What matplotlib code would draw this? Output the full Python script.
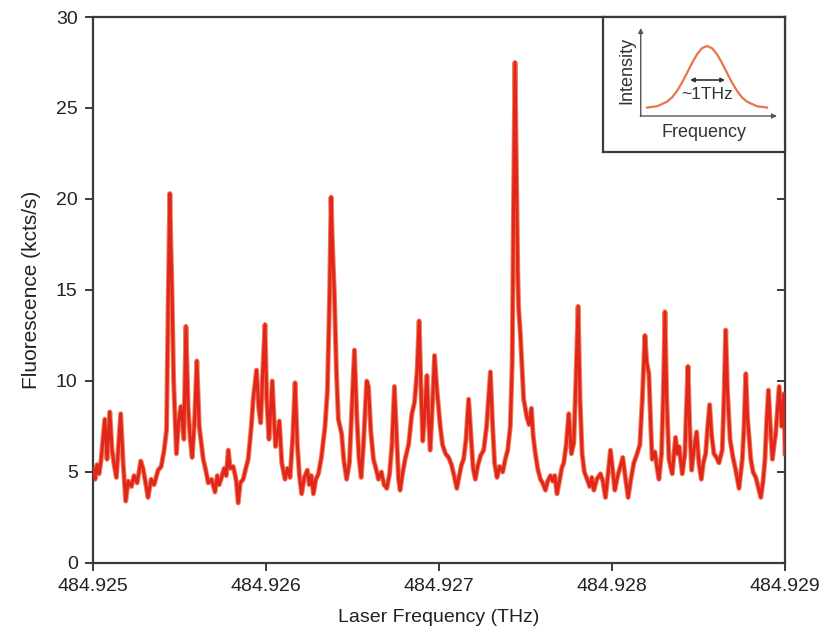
import matplotlib
matplotlib.use("Agg")
import matplotlib.pyplot as plt
import numpy as np

plt.rcParams['font.family'] = ['Liberation Sans', 'DejaVu Sans']

# ---------------- data ----------------
base_freq_thz = 484.925
# frequency offset from 484.925 THz, in MHz
freq_offset_mhz = [
    0, 12, 23, 35, 46, 68, 81, 97, 110, 122, 135, 148, 160, 174, 189,
    203, 222, 237, 255, 276, 289, 304, 318, 336, 353, 376, 394, 411,
    425, 434, 444, 450, 456, 466, 482,
    495, 508, 525, 537, 550, 562, 573, 588, 600, 614, 637,
    654, 666, 685, 705, 718, 729, 743, 758, 770, 782, 793, 810, 820, 828, 839,
    851, 868, 886, 897, 915, 926, 945, 958, 969, 981, 994, 1004, 1017, 1036,
    1047, 1055, 1077, 1091, 1110, 1123, 1139, 1155, 1168, 1181, 1193, 1206,
    1221, 1239, 1250, 1262, 1274, 1288, 1303, 1320, 1341, 1355, 1368, 1376,
    1384, 1395, 1407, 1418, 1437, 1450, 1466, 1482, 1496, 1511, 1525, 1537,
    1550, 1563, 1582, 1592, 1606, 1621, 1635, 1650, 1667, 1682, 1698, 1714,
    1728, 1742, 1757, 1766, 1775, 1789, 1804, 1824, 1843, 1858, 1873, 1885,
    1896, 1906, 1919, 1930, 1939, 1949, 1961, 1974, 1988, 2007, 2020, 2038,
    2055, 2072, 2087, 2103, 2119, 2130, 2142, 2156, 2171, 2185, 2197, 2210,
    2223, 2240, 2258, 2275, 2297, 2310, 2321, 2335, 2350, 2368, 2383, 2397,
    2412, 2423, 2431, 2439, 2448, 2455, 2460, 2470, 2481, 2489, 2508, 2521,
    2534, 2544, 2557, 2570, 2586, 2599, 2615, 2628, 2644, 2657, 2669, 2682,
    2698, 2709, 2721, 2735, 2750, 2765, 2779, 2791, 2804, 2815, 2827, 2840,
    2856, 2871, 2883, 2895, 2912, 2933, 2947, 2962, 2976, 2991, 3005, 3016,
    3033, 3048, 3062, 3077, 3093, 3109, 3126, 3145, 3161, 3175, 3190, 3201,
    3213, 3224, 3232, 3248, 3259, 3271, 3286, 3297, 3306, 3316, 3329, 3348,
    3367, 3378, 3387, 3406, 3421, 3430, 3439, 3449, 3460, 3473, 3489, 3502,
    3516, 3528, 3541, 3553, 3564, 3576, 3589, 3604, 3618, 3637, 3647, 3657,
    3667, 3682, 3699, 3715, 3734, 3753, 3763, 3773, 3783, 3802, 3815, 3831,
    3844, 3860, 3873, 3884, 3895, 3904, 3915, 3927, 3937, 3946, 3957, 3966,
    3974, 3981, 3989, 3994, 4000,
]
# fluorescence in kcts/s
fluorescence_kcts = [
    5.2, 4.6, 5.4, 4.9, 5.6, 7.9, 5.7, 8.3, 6.2, 5.4, 4.7, 6.5, 8.2, 5.5, 3.4,
    4.5, 4.2, 4.8, 4.4, 5.6, 5.2, 4.4, 3.6, 4.6, 4.3, 5.1, 5.3, 6.2,
    7.3, 14.0, 20.3, 17.5, 15.2, 10.0, 6.0,
    7.8, 8.6, 6.8, 13.0, 8.5, 6.8, 5.8, 8.0, 11.1, 7.5, 5.7,
    5.0, 4.4, 4.6, 3.9, 4.8, 4.3, 4.7, 5.2, 4.8, 6.2, 5.2, 5.3, 4.9, 4.5, 3.3,
    4.4, 4.6, 5.3, 5.7, 7.5, 9.0, 10.6, 8.5, 7.7, 10.5, 13.1, 9.0, 6.8, 10.0,
    7.8, 6.4, 7.8, 5.5, 4.6, 5.2, 4.7, 7.0, 9.9, 6.5, 4.8, 3.8,
    4.7, 5.1, 4.3, 4.8, 3.8, 4.6, 4.9, 5.8, 7.5, 9.5, 15.0, 20.1,
    17.5, 14.8, 10.5, 7.9, 7.1, 5.6, 4.6, 5.5, 8.5, 11.7, 8.0, 5.8,
    4.7, 6.5, 10.0, 9.7, 7.2, 5.7, 5.2, 4.6, 5.0, 4.3, 4.1, 4.9,
    6.5, 9.7, 6.5, 4.6, 4.0, 4.9, 5.7, 6.5, 8.2, 8.8, 10.5, 13.3,
    9.5, 6.7, 8.5, 10.3, 8.0, 6.2, 8.5, 11.4, 9.5, 7.5, 6.5, 6.0,
    5.8, 5.4, 4.8, 4.1, 4.9, 5.4, 5.7, 6.8, 9.0, 7.0, 5.2, 4.6,
    5.3, 5.9, 6.2, 7.5, 10.5, 7.5, 5.5, 4.7, 5.3, 5.0, 5.7, 6.2,
    7.5, 11.0, 20.0, 27.5, 21.0, 16.0, 14.0, 12.6, 10.5, 9.0, 8.0, 7.6,
    8.5, 7.0, 6.0, 5.2, 4.6, 4.4, 4.0, 4.5, 4.8, 4.5, 4.8, 3.8,
    4.6, 5.2, 5.5, 6.5, 8.2, 6.0, 6.6, 10.0, 14.1, 9.0, 6.0, 5.0,
    4.6, 4.2, 4.7, 4.0, 4.6, 4.9, 4.5, 3.6, 4.8, 6.2, 5.0, 4.0,
    4.8, 5.3, 5.8, 4.7, 3.6, 4.6, 5.5, 6.0, 6.5, 9.0, 12.5, 11.0,
    10.4, 7.5, 5.7, 6.1, 5.3, 4.6, 6.0, 9.5, 13.8, 9.0, 5.7, 4.9,
    6.9, 6.0, 6.4, 4.9, 6.0, 8.5, 10.8, 7.5, 5.1, 6.2, 7.2, 5.5,
    4.6, 5.5, 6.0, 7.5, 8.7, 7.0, 6.0, 5.8, 5.5, 6.2, 9.0, 12.8,
    9.5, 6.8, 5.8, 5.1, 4.1, 5.7, 7.5, 10.4, 8.0, 5.7, 5.0, 4.7,
    4.2, 3.6, 4.5, 5.7, 8.0, 9.5, 7.5, 5.7, 6.5, 7.1, 8.5, 9.7,
    8.5, 7.5, 8.5, 9.3, 6.0,
]
assert len(freq_offset_mhz) == len(fluorescence_kcts)

x_ticks = [484.925, 484.926, 484.927, 484.928, 484.929]
x_tick_labels = ["484.925", "484.926", "484.927", "484.928", "484.929"]
y_ticks = [0, 5, 10, 15, 20, 25, 30]

# inset schematic (arbitrary units)
inset_freq = [44, 54, 64, 69, 74, 79, 84, 89, 94, 99, 104, 109, 114, 119,
              124, 129, 134, 139, 144, 154, 164]
inset_intensity = [44.4, 45.7, 50.3, 54.5, 61.1, 69.4, 79.0, 88.9, 97.7,
                   103.8, 106.0, 103.8, 97.7, 88.9, 79.0, 69.4, 61.1, 54.5,
                   50.3, 45.7, 44.4]

# ---------------- figure ----------------
fig = plt.figure(figsize=(8.21, 6.44), dpi=100)
ax = fig.add_axes([0.1133, 0.1258, 0.8429, 0.8478])

freq = [base_freq_thz + f * 1e-6 for f in freq_offset_mhz]
ax.plot(freq, fluorescence_kcts, color='#f0805c', lw=3.6, solid_joinstyle='round', zorder=2)
ax.plot(freq, fluorescence_kcts, color='#e1261c', lw=2.2, solid_joinstyle='round', zorder=3)

ax.set_xlim(484.925, 484.929)
ax.set_ylim(0, 30)
ax.set_xticks(x_ticks)
ax.set_xticklabels(x_tick_labels)
ax.set_yticks(y_ticks)

spine_c = '#3a3a3a'
for s in ax.spines.values():
    s.set_color(spine_c)
    s.set_linewidth(1.6)
ax.tick_params(axis='both', direction='out', length=6, width=1.4, color=spine_c,
               labelsize=14, labelcolor='#222222', pad=5)

ax2 = ax.twinx()
ax2.set_ylim(0, 30)
ax2.set_yticks(y_ticks)
ax2.tick_params(axis='y', direction='in', length=6, width=1.4, color=spine_c, labelright=False)
for s in ax2.spines.values():
    s.set_visible(False)

ax.set_xlabel("Laser Frequency (THz)", fontsize=14, color='#222222', labelpad=10)
ax.set_ylabel("Fluorescence (kcts/s)", fontsize=15, color='#222222', labelpad=11)

# ---------------- inset ----------------
axi = fig.add_axes([0.7345, 0.764, 0.2217, 0.2096])
axi.set_xlim(0, 182)
axi.set_ylim(0, 135)
axi.set_xticks([])
axi.set_yticks([])
for s in axi.spines.values():
    s.set_color(spine_c)
    s.set_linewidth(1.6)
axi.set_facecolor('white')
axi.set_zorder(5)

axi.plot(inset_freq, inset_intensity, color='#e8744a', lw=1.6)
arrow_c = '#555555'
axi.annotate('', xy=(37.7, 124), xytext=(37.7, 35.5),
             arrowprops=dict(arrowstyle='-|>', color=arrow_c, lw=1.0, mutation_scale=7,
                             shrinkA=0, shrinkB=0))
axi.annotate('', xy=(174, 36), xytext=(37.2, 36),
             arrowprops=dict(arrowstyle='-|>', color=arrow_c, lw=1.0, mutation_scale=7,
                             shrinkA=0, shrinkB=0))
axi.annotate('', xy=(122, 72), xytext=(87, 72),
             arrowprops=dict(arrowstyle='<|-|>', color='#333333', lw=1.2, mutation_scale=6,
                             shrinkA=0, shrinkB=0))
axi.text(104, 57, "~1THz", fontsize=12.5, ha='center', va='center', color='#333333')
axi.text(23.5, 82, "Intensity", fontsize=13, rotation=90, ha='center', va='center', color='#333333')
axi.text(101, 19, "Frequency", fontsize=13, ha='center', va='center', color='#333333')

fig.savefig("out.png", dpi=100)
